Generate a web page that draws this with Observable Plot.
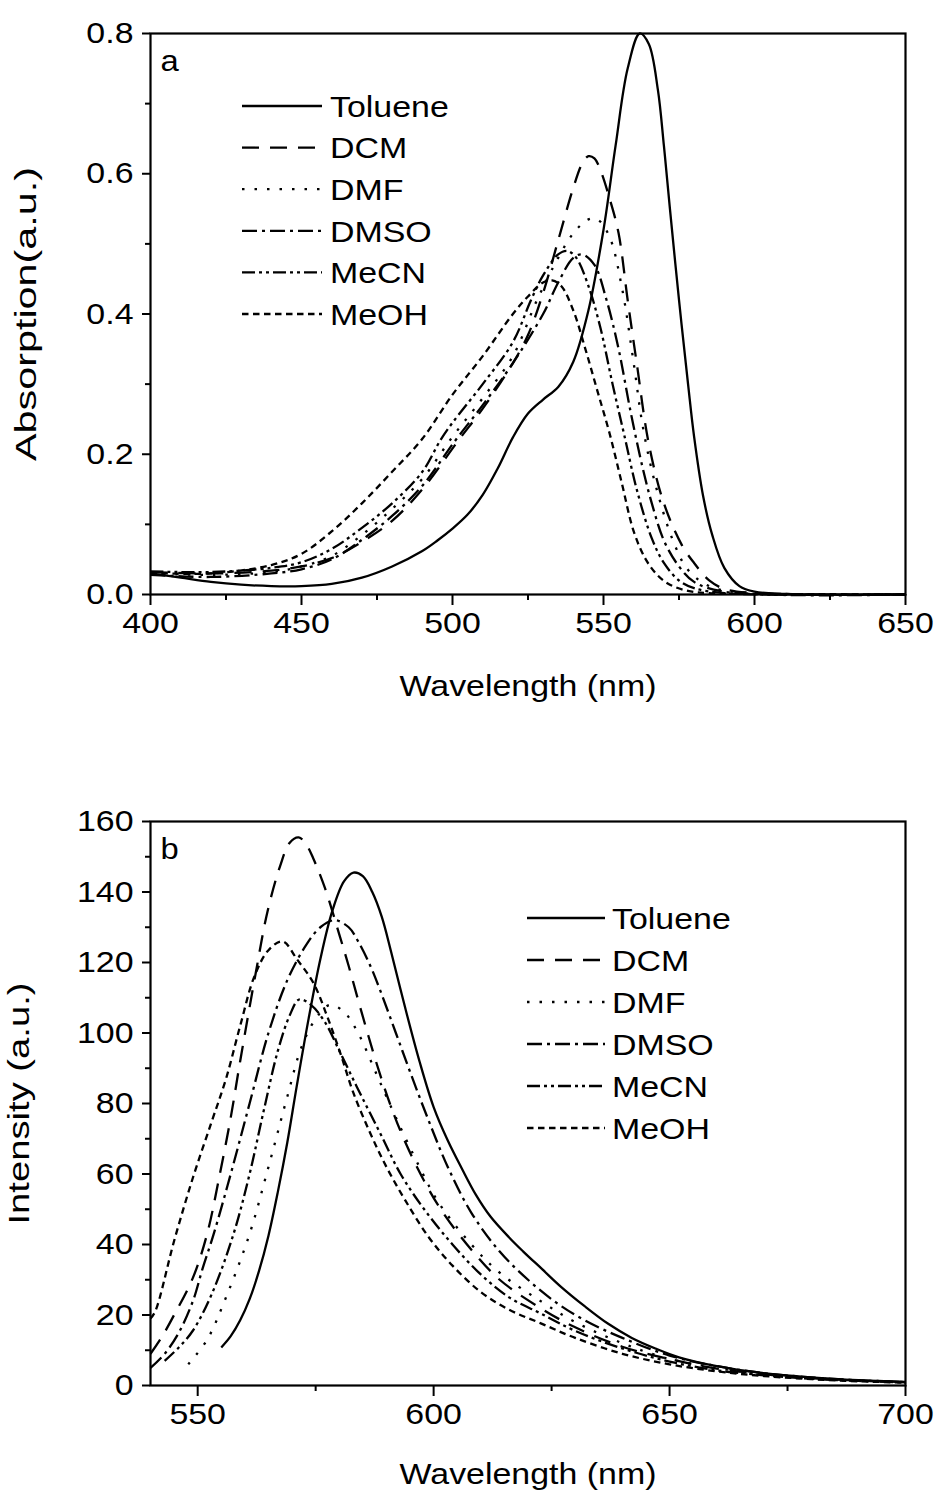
<!DOCTYPE html>
<html><head><meta charset="utf-8">
<script src="https://cdn.jsdelivr.net/npm/d3@7"></script>
<script src="https://cdn.jsdelivr.net/npm/@observablehq/plot@0.6"></script>
<style>
body{margin:0;background:#fff;font-family:"Liberation Sans",Arial,sans-serif}
#wrap{position:relative;width:938px;height:1494px}
#wrap svg{display:block}
#legend{position:absolute;left:0;top:0;pointer-events:none}
</style>
</head><body><div id="wrap"></div>
<script>
// ---------- data ----------
const solvents = ["Toluene","DCM","DMF","DMSO","MeCN","MeOH"];

// (a) absorption
const absTolueneNm = [400,410,420,430,440,450,460,470,480,490,495,500,505,510,515,520,525,530,535,540,545,550,554,558,562,565,568,570,572,575,578,580,583,586,590,595,600,610,650];
const absTolueneA  = [0.030,0.024,0.018,0.014,0.012,0.012,0.015,0.024,0.040,0.062,0.077,0.094,0.114,0.142,0.180,0.224,0.258,0.278,0.296,0.332,0.405,0.520,0.640,0.750,0.800,0.785,0.720,0.640,0.550,0.420,0.300,0.225,0.140,0.085,0.038,0.012,0.004,0.001,0.000];
const absDcmNm = [400,420,440,450,460,470,480,490,502,510,520,525,530,535,540,543,545,547,549,552,555,558,561,565,570,576,580,585,590,600,650];
const absDcmA  = [0.032,0.030,0.034,0.040,0.052,0.075,0.105,0.150,0.220,0.265,0.330,0.370,0.430,0.505,0.580,0.615,0.625,0.622,0.605,0.565,0.515,0.420,0.330,0.215,0.130,0.070,0.045,0.020,0.008,0.002,0.000];
const absDmfNm = [400,420,440,450,460,470,480,490,500,510,520,528,535,540,545,548,552,556,560,563,567,573,578,585,595,650];
const absDmfA  = [0.030,0.028,0.032,0.040,0.055,0.085,0.122,0.165,0.225,0.280,0.340,0.420,0.480,0.515,0.535,0.535,0.510,0.440,0.330,0.240,0.160,0.077,0.035,0.012,0.003,0.000];
const absDmsoNm = [400,420,440,450,460,470,480,490,501,510,520,530,535,540,543,547,551,555,559,563,566,570,575,580,590,650];
const absDmsoA  = [0.028,0.025,0.030,0.036,0.050,0.078,0.112,0.155,0.220,0.270,0.330,0.400,0.445,0.480,0.485,0.470,0.420,0.350,0.260,0.180,0.130,0.077,0.040,0.018,0.004,0.000];
const absMecnNm = [400,420,440,450,460,470,480,490,496,500,510,520,526,530,535,538,541,545,549,553,557,561,566,570,575,580,590,650];
const absMecnA  = [0.033,0.032,0.038,0.046,0.065,0.095,0.130,0.175,0.220,0.245,0.300,0.360,0.420,0.455,0.485,0.490,0.480,0.440,0.380,0.300,0.225,0.150,0.080,0.045,0.020,0.009,0.002,0.000];
const absMeohNm = [400,420,440,450,460,470,480,490,500,510,520,525,530,533,536,540,544,548,552,556,560,564,568,572,578,585,600,650];
const absMeohA  = [0.031,0.030,0.042,0.058,0.090,0.130,0.175,0.222,0.285,0.340,0.400,0.425,0.445,0.448,0.440,0.405,0.350,0.290,0.230,0.160,0.090,0.050,0.027,0.014,0.005,0.002,0.001,0.000];

// (b) emission
const emTolueneNm = [555,557,559,561,563,565,567,569,571,573.5,576,578.5,581,583,585,587,589,591,594,597,600,603,606,609,612,616,619,623,627,632,637,642,647,652,660,670,680,690,700];
const emTolueneI  = [10.8,14,18.5,24.5,32.5,42.5,55,69,85,104,121,134.5,143,145.5,144.5,140,133,123,107,92,79,69.5,61.5,54,48,42,38,33,28,22.5,17.5,13.5,10.5,8,5.5,3.5,2.3,1.5,1.0];
const emDcmNm = [540,542.5,545,549,552,554.4,557,559,562.3,564.8,567.5,569.5,571.4,573,574.5,577,580,582,584.5,588,591,594,598,602,608,614,622.6,630,640,650,660,670,680,690,700];
const emDcmI  = [9,14,20,30.6,43,58,76,92,117,134.5,147.5,154,155.5,153.5,149.5,141,128,119,107,91,79,69,58,49,38.5,30,22,16.5,11,7.5,4.8,3.2,2.1,1.4,0.9];
const emDmfNm = [548,552,556,561,565,569,572,575,578,581,584,588,592,597,601,608,614,622.6,630,640,650,660,670,680,690,700];
const emDmfI  = [6,13,25,43,62,82,96,104,108,106,100,88,76,62,52,40,32,24,18,12,7.5,5,3.2,2.1,1.4,1];
const emDmsoNm = [540,543,546,549,551,553.4,557,561,565,569,573,576,579,582,584,586.6,588.7,592,595,598.7,603,608,614,620,626,632,640,650,660,670,680,690,700];
const emDmsoI  = [5,9,15,24,33,43,60,80,100,115,125,130,132,130,126,119,112,100,89,76,62,49,38,30,23.5,18.5,13.5,8.5,5.5,3.5,2.3,1.5,1];
const emMecnNm = [543,546,549,553,557.6,561,564,567,569.5,571.5,574,577,580,584,588.7,593,598,604,610,616,622.6,630,640,650,660,670,680,690,700];
const emMecnI  = [7,10.8,15.6,26,43,60,78,95,105,109.5,108,103,95,84,71.5,60,50,40,31.5,25,20.5,15.5,10.5,6.8,4.3,2.9,1.9,1.3,0.9];
const emMeohNm = [540,541,545,549,553,556,559,562,565,568,571,574.6,577.5,580.3,583,586.6,590,594,599,604,610,616,622.6,630,640,650,660,670,680,690,700];
const emMeohI  = [19,21,41,59,75,87,102,116,123.5,126,121,114,104.5,94,83,71.5,62,52.5,42,34,26.5,21.5,17.7,13.5,9,6,4,2.7,1.8,1.2,0.8];

// tick values
const absXTicks = [400,450,500,550,600,650];
const absXMinor = [425,475,525,575,625];
const absYTicks = [0,0.2,0.4,0.6,0.8];
const absYMinor = [0.1,0.3,0.5,0.7];
const emXTicks = [550,600,650,700];
const emXMinor = [575,625,675];
const emYTicks = [0,20,40,60,80,100,120,140,160];
const emYMinor = [10,30,50,70,90,110,130,150];

// ---------- styles ----------
const dash = {Toluene:null, DCM:"17,11", DMF:"2.5,10", DMSO:"15,5,3,5", MeCN:"13,4,3,4,3,4", MeOH:"6.5,4.5"};
const LW = 2.3, FS = 30, STRETCH = 1.13;
const noLabel = () => "";

const zip = (name, xs, ys) => xs.map((x,i) => ({solvent:name, x, y:ys[i]}));
const absSeries = {
  Toluene: zip("Toluene", absTolueneNm, absTolueneA),
  DCM: zip("DCM", absDcmNm, absDcmA),
  DMF: zip("DMF", absDmfNm, absDmfA),
  DMSO: zip("DMSO", absDmsoNm, absDmsoA),
  MeCN: zip("MeCN", absMecnNm, absMecnA),
  MeOH: zip("MeOH", absMeohNm, absMeohA)
};
const emSeries = {
  Toluene: zip("Toluene", emTolueneNm, emTolueneI),
  DCM: zip("DCM", emDcmNm, emDcmI),
  DMF: zip("DMF", emDmfNm, emDmfI),
  DMSO: zip("DMSO", emDmsoNm, emDmsoI),
  MeCN: zip("MeCN", emMecnNm, emMecnI),
  MeOH: zip("MeOH", emMeohNm, emMeohI)
};

function lines(series){
  return solvents.map(s => Plot.line(series[s], {x:"x", y:"y", stroke:"black", strokeWidth:LW,
    strokeDasharray: dash[s] || undefined, curve:"catmull-rom", strokeLinecap:"butt"}));
}

function panel(o){
  return Plot.plot({
    width:938, height:o.height,
    marginTop:o.mt, marginBottom:o.mb, marginLeft:150, marginRight:33,
    style:{fontFamily:'"Liberation Sans", Arial, sans-serif', fontSize:FS+"px", color:"black", background:"white", overflow:"visible"},
    x:{domain:o.xDomain}, y:{domain:o.yDomain},
    marks:[
      ...lines(o.series),
      Plot.frame({stroke:"black", strokeWidth:2.2}),
      Plot.axisX({ticks:o.xTicks, tickSize:11, tickPadding:6, strokeWidth:2, fontSize:FS,
        label:"Wavelength (nm)", labelAnchor:"center", labelArrow:"none", labelOffset:o.xLabelOffset}),
      Plot.axisX({ticks:o.xMinor, tickSize:6, strokeWidth:2, tickFormat:noLabel, label:null}),
      Plot.axisY({ticks:o.yTicks, tickSize:8, tickPadding:9, strokeWidth:2, fontSize:FS, tickFormat:o.yFormat,
        label:o.yLabel, labelAnchor:"center", labelArrow:"none", labelOffset:o.yLabelOffset}),
      Plot.axisY({ticks:o.yMinor, tickSize:5, strokeWidth:2, tickFormat:noLabel, label:null}),
      Plot.text([o.tag], {frameAnchor:"top-left", dx:10, dy:17, fontSize:29, textAnchor:"start", lineAnchor:"top", text:d=>d})
    ]
  });
}

const wrap = document.getElementById("wrap");
const chartA = panel({height:740, mt:33, mb:146, xDomain:[400,650], yDomain:[0,0.8], series:absSeries,
  xTicks:absXTicks, xMinor:absXMinor, yTicks:absYTicks, yMinor:absYMinor, yFormat:d3.format(".1f"),
  yLabel:"Absorption(a.u.)", xLabelOffset:101, yLabelOffset:136, tag:"a"});
const chartB = panel({height:754, mt:81, mb:109, xDomain:[540,700], yDomain:[0,160], series:emSeries,
  xTicks:emXTicks, xMinor:emXMinor, yTicks:emYTicks, yMinor:emYMinor, yFormat:d3.format("d"),
  yLabel:"Intensity (a.u.)", xLabelOffset:98, yLabelOffset:143, tag:"b"});
wrap.appendChild(chartA);
wrap.appendChild(chartB);

// legend overlay
const leg = d3.select(wrap).append("svg").attr("id","legend").attr("width",938).attr("height",1494);
function legend(x0, x1, tx, y0, step){
  solvents.forEach((s,i) => {
    const y = y0 + i*step;
    leg.append("line").attr("x1",x0).attr("x2",x1).attr("y1",y).attr("y2",y)
      .attr("stroke","black").attr("stroke-width",LW).attr("stroke-dasharray",dash[s]);
    leg.append("text").attr("x",tx).attr("y",y).attr("dy","0.36em").attr("font-size",FS)
      .attr("font-family",'"Liberation Sans", Arial, sans-serif').text(s);
  });
}
legend(242, 322, 330, 106, 41.6);
legend(527, 605, 612, 918, 42);

// horizontal stretch of text, as in the reference figure
function stretch(root, yTarget){
  root.querySelectorAll("text").forEach(t => {
    const g = t.closest('[aria-label="y-axis label"]');
    const len = t.getComputedTextLength();
    if (!(len > 0)) return;
    const target = g ? yTarget : len*STRETCH;
    t.setAttribute("textLength", target);
    t.setAttribute("lengthAdjust", "spacingAndGlyphs");
  });
}
stretch(chartA, 294);
stretch(chartB, 242);
stretch(leg.node(), 0);
</script>
</body></html>
